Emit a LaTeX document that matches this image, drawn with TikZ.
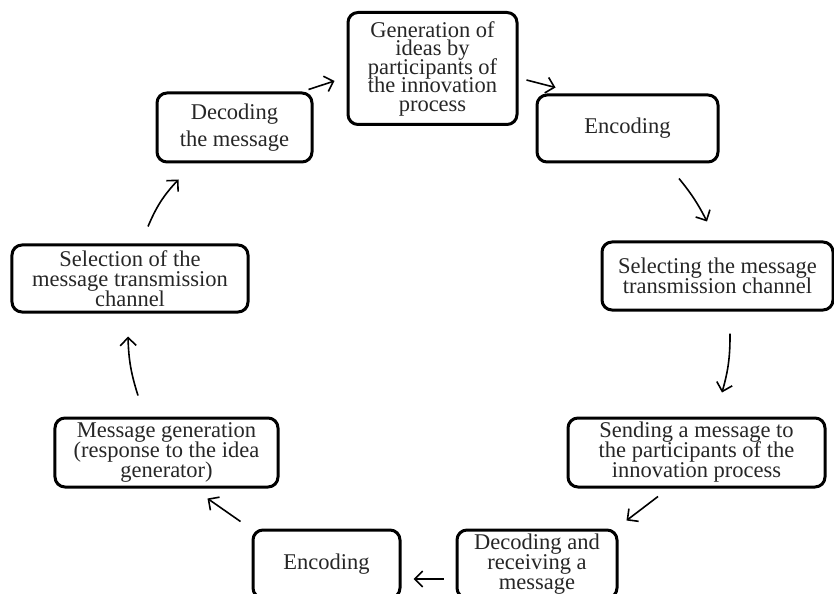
\documentclass[tikz,border=0pt]{standalone}
\usepackage{fontspec}
\setmainfont{Liberation Serif}
\usetikzlibrary{arrows.meta}
\newcommand\stagefont{\fontsize{22.5bp}{20bp}\selectfont\setlength{\lineskiplimit}{-20pt}}
\tikzset{
  stagebox/.style={draw, line width=3bp, rounded corners=10bp, align=center,
    inner sep=0pt, text=black!85, font=\stagefont},
  flow/.style={line width=1.6bp, -{Straight Barb[length=8bp,width=16bp]}}
}
\begin{document}
\begin{tikzpicture}[x=1bp, y=-1bp]
  \useasboundingbox (0,0) rectangle (834,594);
  % the stages, clockwise from the top
  \node[stagebox, minimum width=169bp, minimum height=112bp] (ideas) at (432.5,68.5) {Generation of\\[-1.5bp]ideas by\\[-1.5bp]participants of\\[-1.5bp]the innovation\\[-1.5bp]process};
  \node[stagebox, minimum width=181bp, minimum height=67bp] (encA) at (627.5,128.5) {Encoding};
  \node[stagebox, minimum width=231bp, minimum height=68bp] (chanA) at (717.5,276) {Selecting the message\\transmission channel};
  \node[stagebox, minimum width=257bp, minimum height=69bp] (send) at (696.5,452.5) {Sending a message to\\the participants of the\\innovation process};
  \node[stagebox, minimum width=160bp, minimum height=68bp] (recv) at (537,564) {Decoding and\\receiving a\\message};
  \node[stagebox, minimum width=147bp, minimum height=68bp] (encB) at (326.5,564) {Encoding};
  \node[stagebox, minimum width=223bp, minimum height=69bp] (reply) at (166.5,452.5) {Message generation\\(response to the idea\\generator)};
  \node[stagebox, minimum width=236bp, minimum height=67bp] (chanB) at (130,278.5) {Selection of the\\message transmission\\channel};
  \node[stagebox, minimum width=155bp, minimum height=69bp] (dec) at (234.5,127.5) {Decoding\\[7bp]the message};
  % arrows between the stages
  \draw[flow] ([shift={(-5,-2)}]dec.north east) -- ([shift={(-12,12.5)}]ideas.west);
  \draw[flow] ([shift={(8,11.5)}]ideas.east) -- ([shift={(20,-6)}]encA.north west);
  \draw[flow] ([shift={(51.5,15)}]encA.south) to[bend left=6] ([shift={(-10.5,-19)}]chanA.north);
  \draw[flow] ([shift={(12.5,22)}]chanA.south) to[bend left=8] ([shift={(25.5,-24)}]send.north);
  \draw[flow] ([shift={(-38.5,8)}]send.south) -- ([shift={(8,-8)}]recv.north east);
  \draw[flow] ([shift={(-12,15)}]recv.west) -- ([shift={(12,15)}]encB.east);
  \draw[flow] ([shift={(-11,-7)}]encB.north west) -- ([shift={(-72,10)}]reply.south east);
  \draw[flow] ([shift={(-28.5,-21)}]reply.north) to[bend left=8] ([shift={(-2,23)}]chanB.south);
  \draw[flow] ([shift={(18,-17)}]chanB.north) to[bend left=10] ([shift={(23,16)}]dec.south west);
\end{tikzpicture}
\end{document}
